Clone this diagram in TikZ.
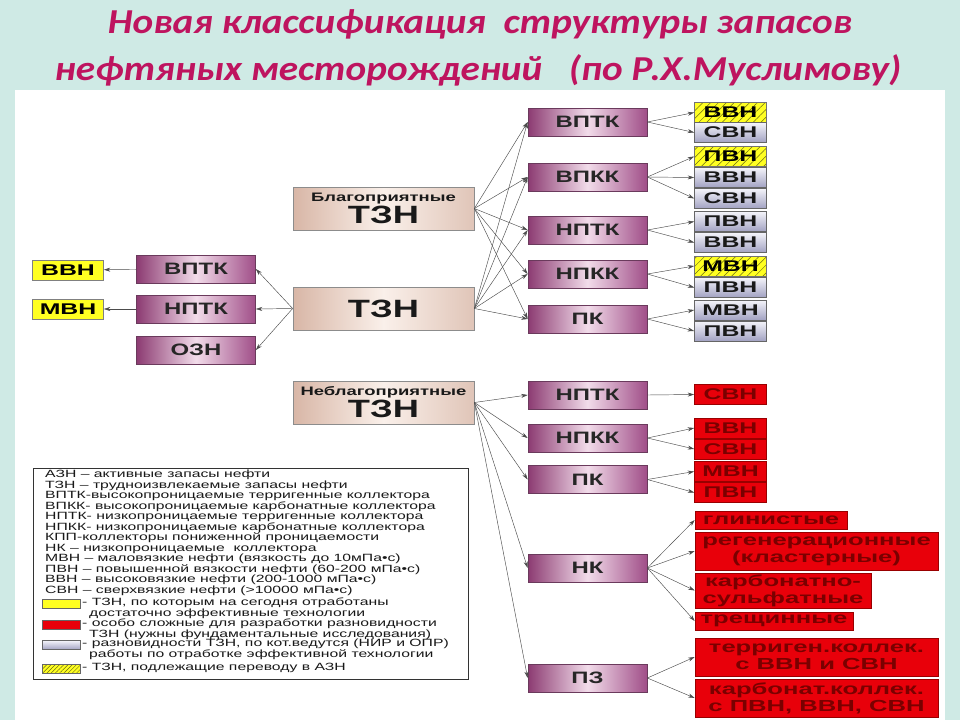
\documentclass[tikz,border=0pt]{standalone}
\usepackage{fontspec}
\usetikzlibrary{arrows.meta, patterns.meta}
\newfontfamily\titlefont{Carlito}[FakeStretch=1.12]
\newfontfamily\boxfont{Liberation Sans}[FakeStretch=1.45]
\newfontfamily\varfont{Liberation Sans}[FakeStretch=1.6]
\newfontfamily\legendfont{Liberation Sans}[FakeStretch=1.5]
\definecolor{slidebg}{HTML}{CFEAE5}
\definecolor{titlered}{RGB}{190,20,95}
\definecolor{purpleedge}{HTML}{6A3A5C}
\definecolor{purpleL}{HTML}{8C3B72}
\definecolor{purpleM}{HTML}{F2DCEA}
\definecolor{purpleR}{HTML}{A04E88}
\definecolor{beigeL}{HTML}{D8B6A6}
\definecolor{beigeM}{HTML}{FAF0EA}
\definecolor{beigeR}{HTML}{E0C5B8}
\definecolor{lavT}{HTML}{F4F4FA}
\definecolor{lavB}{HTML}{A2A2C2}
\definecolor{varyellow}{HTML}{FFFF22}
\definecolor{hatchcol}{HTML}{6B6B10}
\definecolor{varred}{HTML}{E8000A}
\definecolor{redtext}{HTML}{7A0000}
\tikzset{
  % purple collector boxes
  collbox/.style={
    draw=purpleedge, line width=0.7pt,
    left color=purpleL, right color=purpleR, middle color=purpleM,
    minimum width=119pt, minimum height=28pt, inner sep=0pt,
    font=\boxfont\bfseries\fontsize{16.5}{16.5}\selectfont, text=black!85
  },
  % beige TZN boxes
  tznbox/.style={
    draw=black!45, line width=0.7pt,
    left color=beigeL, right color=beigeR, middle color=beigeM,
    minimum width=181pt, minimum height=43pt, inner sep=0pt,
    align=center, text=black!90
  },
  % small variety boxes
  varbox/.style={
    draw=black!60, line width=0.6pt,
    top color=lavT, bottom color=lavB,
    minimum width=72pt, minimum height=20pt, inner sep=0pt,
    font=\varfont\bfseries\fontsize{15.5}{15.5}\selectfont, text=black!90
  },
  yelbox/.style={
    draw=black!50, line width=0.6pt, fill=varyellow,
    minimum width=71pt, minimum height=20pt, inner sep=0pt,
    font=\varfont\bfseries\fontsize{15.5}{15.5}\selectfont
  },
  hatchbox/.style={
    draw=black!55, line width=0.6pt, preaction={fill=varyellow},
    pattern={Lines[angle=45,distance=5.5pt,line width=0.5pt]}, pattern color=hatchcol,
    minimum width=72pt, minimum height=20pt, inner sep=0pt,
    font=\varfont\bfseries\fontsize{15.5}{15.5}\selectfont
  },
  redbox/.style={
    draw=red!60!black, line width=0.6pt, fill=varred,
    minimum width=72pt, minimum height=20pt, inner sep=0pt,
    font=\varfont\bfseries\fontsize{15.5}{15.5}\selectfont, text=redtext
  },
  redwide/.style={
    redbox, align=center,
    font=\varfont\bfseries\fontsize{16}{17}\selectfont
  },
  swatch/.style={draw=black!60, line width=0.5pt, minimum width=38pt, minimum height=9pt, inner sep=0pt},
  legtext/.style={anchor=north west, inner sep=0pt, align=left,
    font=\legendfont\fontsize{10.5}{10.5}\selectfont, text=black!90},
  arr/.style={-{Stealth[length=6.5pt,width=4pt]}, draw=black!70, line width=0.45pt},
}

\begin{document}
\begin{tikzpicture}[x=1pt, y=-1pt]

  %% ── Slide background ──
  \useasboundingbox (0,0) rectangle (960,720);
  \fill[slidebg] (0,0) rectangle (960,720);
  \fill[white] (15,90) rectangle (945,720);

  %% ── Title ──
  \node[anchor=base, text=titlered, font=\titlefont\bfseries\itshape\fontsize{35}{40}\selectfont]
    (title1) at (480,33) {Новая классификация\ \ структуры запасов};
  \node[anchor=base, text=titlered, font=\titlefont\bfseries\itshape\fontsize{35}{40}\selectfont]
    (title2) at (478,80) {нефтяных месторождений\ \ \ (по Р.Х.Муслимову)};

  %% ── TZN boxes ──
  \node[tznbox] (blagTZN) at (383.5,208.5)
    {{\legendfont\bfseries\fontsize{12.3}{12.3}\selectfont Благоприятные}\\[1pt]
     {\boxfont\bfseries\fontsize{25}{25}\selectfont ТЗН}};
  \node[tznbox, font=\boxfont\bfseries\fontsize{25}{25}\selectfont] (TZN) at (383.5,308.5) {ТЗН};
  \node[tznbox] (neblagTZN) at (383.5,402.5)
    {{\legendfont\bfseries\fontsize{12.3}{12.3}\selectfont Неблагоприятные}\\[1pt]
     {\boxfont\bfseries\fontsize{25}{25}\selectfont ТЗН}};

  %% ── Left branch ──
  \node[collbox] (vptkL) at (196,269) {ВПТК};
  \node[collbox] (nptkL) at (196,309) {НПТК};
  \node[collbox] (oznL)  at (196,350) {ОЗН};
  \node[yelbox]  (vvnL)  at (68,270)  {ВВН};
  \node[yelbox]  (mvnL)  at (68,309)  {МВН};

  %% ── Favourable collectors ──
  \node[collbox] (vptkB) at (587.5,122)   {ВПТК};
  \node[collbox] (vpkkB) at (587.5,177)   {ВПКК};
  \node[collbox] (nptkB) at (587.5,230)   {НПТК};
  \node[collbox] (npkkB) at (587.5,274)   {НПКК};
  \node[collbox] (pkB)   at (587.5,319)   {ПК};

  %% ── Favourable varieties ──
  \node[hatchbox] (vvnB1) at (730.5,112.5) {ВВН};
  \node[varbox]   (svnB1) at (730.5,132.5) {СВН};
  \node[hatchbox] (pvnB2) at (730.5,156.5) {ПВН};
  \node[varbox]   (vvnB2) at (730.5,177.5) {ВВН};
  \node[varbox]   (svnB2) at (730.5,198.5) {СВН};
  \node[varbox]   (pvnB3) at (730.5,221.5) {ПВН};
  \node[varbox]   (vvnB3) at (730.5,242.5) {ВВН};
  \node[hatchbox] (mvnB4) at (730.5,266)   {МВН};
  \node[varbox]   (pvnB4) at (730.5,287.5) {ПВН};
  \node[varbox]   (mvnB5) at (730.5,310)   {МВН};
  \node[varbox]   (pvnB5) at (730.5,331)   {ПВН};

  %% ── Unfavourable collectors ──
  \node[collbox] (nptkU) at (587.5,395)   {НПТК};
  \node[collbox] (npkkU) at (587.5,438)   {НПКК};
  \node[collbox] (pkU)   at (587.5,479.5) {ПК};
  \node[collbox] (nkU)   at (587.5,568)   {НК};
  \node[collbox] (pzU)   at (587.5,678)   {ПЗ};

  %% ── Unfavourable varieties ──
  \node[redbox] (svnU1) at (730.5,394.5) {СВН};
  \node[redbox] (vvnU2) at (730.5,428)   {ВВН};
  \node[redbox] (svnU2) at (730.5,449)   {СВН};
  \node[redbox] (mvnU3) at (730.5,471.5) {МВН};
  \node[redbox] (pvnU3) at (730.5,492.5) {ПВН};
  \node[redwide, minimum width=152pt, minimum height=18pt] (glinU)  at (771,520)   {глинистые};
  \node[redwide, minimum width=243pt, minimum height=38pt] (regenU) at (816.5,551) {регенерационные\\(кластерные)};
  \node[redwide, minimum width=176pt, minimum height=35pt] (ksulU)  at (783,590.5) {карбонатно-\\сульфатные};
  \node[redwide, minimum width=158pt, minimum height=18pt] (treshU) at (774,621)   {трещинные};
  \node[redwide, minimum width=243pt, minimum height=38pt] (terrU)  at (816.5,657) {терриген.коллек.\\с ВВН и СВН};
  \node[redwide, minimum width=243pt, minimum height=38pt] (karbU)  at (816.5,698) {карбонат.коллек.\\с ПВН, ВВН, СВН};

  %% ── Legend ──
  \node[draw=black!80, line width=0.8pt, minimum width=435pt, minimum height=211pt, inner sep=0pt]
    (legend) at (250.5,573.5) {};
  \node[legtext] (legLines) at (45,470) {%
    АЗН – активные запасы нефти\\
    ТЗН – трудноизвлекаемые запасы нефти\\
    ВПТК-высокопроницаемые терригенные коллектора\\
    ВПКК- высокопроницаемые карбонатные коллектора\\
    НПТК- низкопроницаемые терригенные коллектора\\
    НПКК- низкопроницаемые карбонатные коллектора\\
    КПП-коллекторы пониженной проницаемости\\
    НК – низкопроницаемые\ \ коллектора\\
    МВН – маловязкие нефти (вязкость до 10мПа•с)\\
    ПВН – повышенной вязкости нефти (60-200 мПа•с)\\
    ВВН – высоковязкие нефти (200-1000 мПа•с)\\
    СВН – сверхвязкие нефти (>10000 мПа•с)};
  \node[swatch, fill=varyellow] (swYel) at (61,604) {};
  \node[swatch, fill=varred]    (swRed) at (61,625) {};
  \node[swatch, top color=lavT, bottom color=lavB] (swLav) at (61,645) {};
  \node[swatch, preaction={fill=varyellow}, pattern={Lines[angle=45,distance=3pt,line width=0.4pt]},
        pattern color=hatchcol] (swHat) at (61,669) {};
  \node[legtext] (legYel) at (82,598) {- ТЗН, по которым на сегодня отработаны\\
    \hspace*{7pt}достаточно эффективные технологии};
  \node[legtext] (legRed) at (82,619) {- особо сложные для разработки разновидности\\
    \hspace*{7pt}ТЗН (нужны фундаментальные исследования)};
  \node[legtext] (legLav) at (82,639) {- разновидности ТЗН, по кот.ведутся (НИР и ОПР)\\
    \hspace*{7pt}работы по отработке эффективной технологии};
  \node[legtext] (legHat) at (82,663) {- ТЗН, подлежащие переводу в АЗН};

  %% ── Arrows — TZN to left ──
  \draw[arr] (TZN.west) -- (vptkL.east);
  \draw[arr] (TZN.west) -- (nptkL.east);
  \draw[arr] (TZN.west) -- (oznL.east);
  \draw[arr] (vptkL) -- (vvnL);
  \draw[arr] (nptkL) -- (mvnL);

  %% ── Arrows — favourable ──
  \draw[arr] (blagTZN.east) -- (vptkB.west);
  \draw[arr] (blagTZN.east) -- (vpkkB.west);
  \draw[arr] (blagTZN.east) -- (nptkB.west);
  \draw[arr] (blagTZN.east) -- (npkkB.west);
  \draw[arr] (blagTZN.east) -- (pkB.west);
  \draw[arr] (TZN.east) -- (vptkB.west);
  \draw[arr] (TZN.east) -- (vpkkB.west);
  \draw[arr] (TZN.east) -- (nptkB.west);
  \draw[arr] (TZN.east) -- (npkkB.west);
  \draw[arr] (TZN.east) -- (pkB.west);

  \draw[arr] (vptkB.east) -- (vvnB1.west);
  \draw[arr] (vptkB.east) -- (svnB1.west);
  \draw[arr] (vpkkB.east) -- (pvnB2.west);
  \draw[arr] (vpkkB.east) -- (vvnB2.west);
  \draw[arr] (vpkkB.east) -- (svnB2.west);
  \draw[arr] (nptkB.east) -- (pvnB3.west);
  \draw[arr] (nptkB.east) -- (vvnB3.west);
  \draw[arr] (npkkB.east) -- (mvnB4.west);
  \draw[arr] (npkkB.east) -- (pvnB4.west);
  \draw[arr] (pkB.east) -- (mvnB5.west);
  \draw[arr] (pkB.east) -- (pvnB5.west);

  %% ── Arrows — unfavourable ──
  \draw[arr] (neblagTZN.east) -- (nptkU.west);
  \draw[arr] (neblagTZN.east) -- (npkkU.west);
  \draw[arr] (neblagTZN.east) -- (pkU.west);
  \draw[arr] (neblagTZN.east) -- (nkU.west);
  \draw[arr] (neblagTZN.east) -- (pzU.west);

  \draw[arr] (nptkU.east) -- (svnU1.west);
  \draw[arr] (npkkU.east) -- (vvnU2.west);
  \draw[arr] (npkkU.east) -- (svnU2.west);
  \draw[arr] (pkU.east) -- (mvnU3.west);
  \draw[arr] (pkU.east) -- (pvnU3.west);
  \draw[arr] (nkU.east) -- (glinU.west);
  \draw[arr] (nkU.east) -- (regenU.west);
  \draw[arr] (nkU.east) -- (ksulU.west);
  \draw[arr] (nkU.east) -- (treshU.west);
  \draw[arr] (pzU.east) -- (terrU.west);
  \draw[arr] (pzU.east) -- (karbU.west);

\end{tikzpicture}
\end{document}
